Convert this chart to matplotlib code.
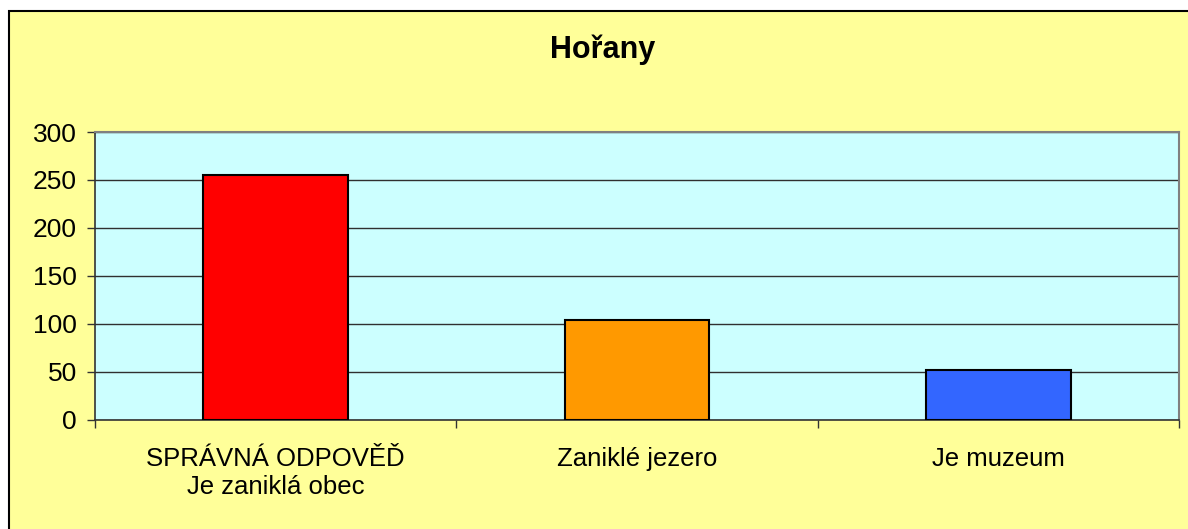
import matplotlib.pyplot as plt
from matplotlib.patches import Rectangle

title = "Hořany"
categories = ["SPRÁVNÁ ODPOVĚĎ\nJe zaniklá obec", "Zaniklé jezero", "Je muzeum"]
values = [255, 104, 52]
colors = ["#FF0000", "#FF9900", "#3366FF"]
yticks = [0, 50, 100, 150, 200, 250, 300]

plt.rcParams['font.family'] = ['Liberation Sans', 'DejaVu Sans']

fig = plt.figure(figsize=(11.88, 5.29), dpi=100)
fig.patch.set_facecolor("white")

# chart area (yellow with black border, runs off right/bottom edge)
W, H = 1188, 529
fig.patches.append(Rectangle((9 / W, -0.1), 1.1, 1 - 11 / H + 0.1,
                             transform=fig.transFigure, facecolor="#FFFF99",
                             edgecolor="black", linewidth=1.5, zorder=-5))

ax = fig.add_axes([95 / W, 1 - 419.5 / H, (1179 - 95) / W, (419.5 - 132) / H])
ax.set_zorder(2)
ax.set_facecolor("#CCFFFF")

x = range(len(values))
ax.bar(x, values, width=0.4, color=colors, edgecolor="black", linewidth=1.5, zorder=3)

ax.set_xlim(-0.5, 2.5)
ax.set_ylim(0, 300)
ax.set_yticks(yticks)
ax.grid(axis="y", color="#303030", linewidth=1, zorder=1)
ax.set_axisbelow(True)

ax.set_xticks([-0.5, 0.5, 1.5, 2.5])
ax.set_xticklabels([])
ax.set_xticks(list(x), minor=True)
ax.set_xticklabels(categories, minor=True, fontsize=18.5, linespacing=1.2)
ax.tick_params(axis="x", which="major", direction="out", length=6, width=1, color="#333333")
ax.tick_params(axis="x", which="minor", length=0, pad=20)
ax.tick_params(axis="y", direction="out", length=6, width=1, color="#333333",
               labelsize=19, pad=7)

for s in ["top", "right"]:
    ax.spines[s].set_color("#808080")
    ax.spines[s].set_linewidth(1.5)
for s in ["left", "bottom"]:
    ax.spines[s].set_color("#333333")
    ax.spines[s].set_linewidth(1.2)

fig.text(603 / W, 1 - 50 / H, title, ha="center", va="center",
         fontsize=22, fontweight="bold", zorder=3)

fig.savefig("out.png", dpi=100)
